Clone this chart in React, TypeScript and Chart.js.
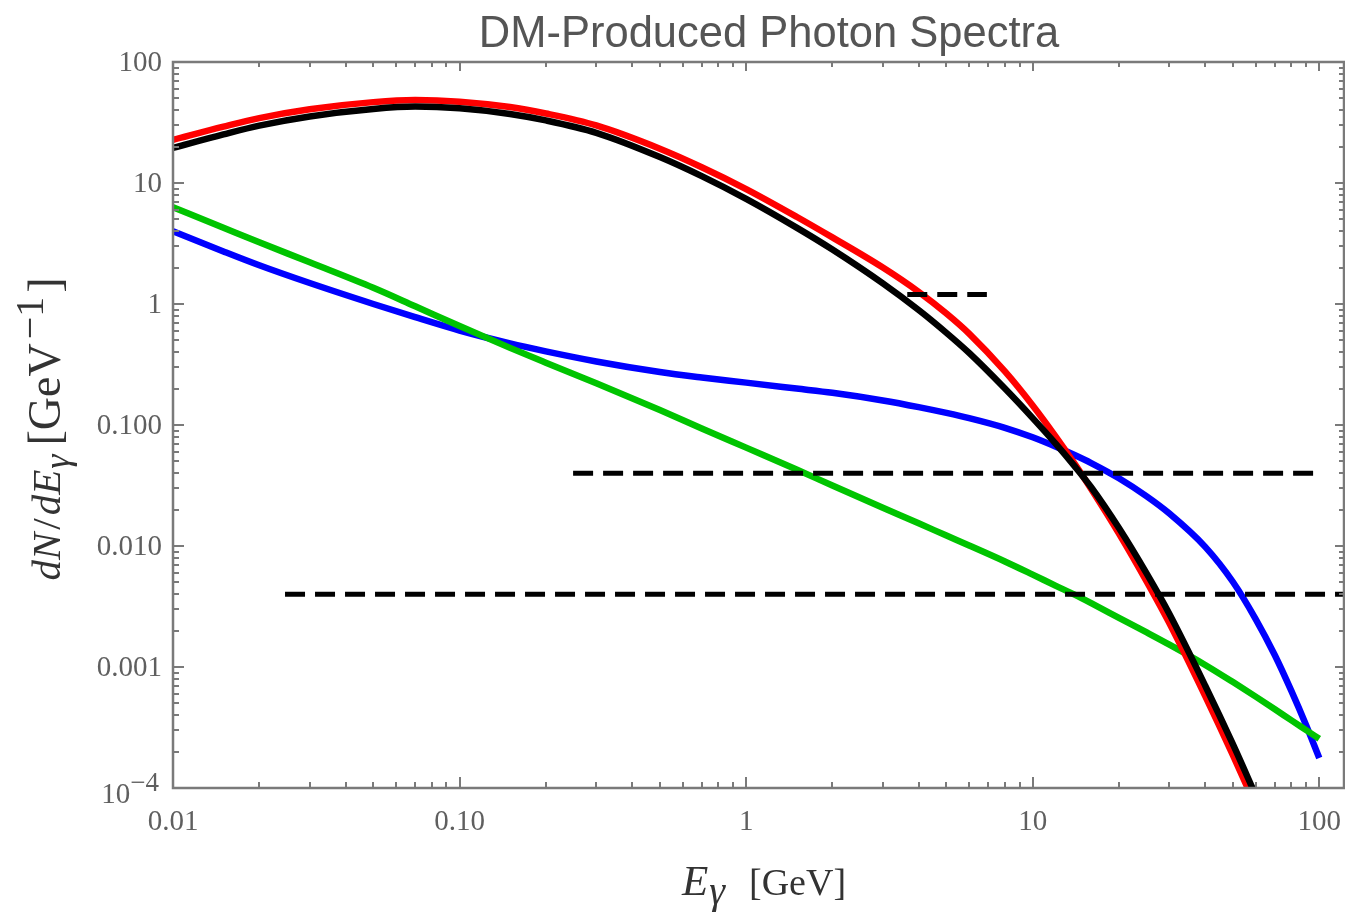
import React, { useEffect, useRef } from "react";
import { Chart, registerables } from "chart.js";

Chart.register(...registerables);

// ---- data ----
const TITLE = "DM-Produced Photon Spectra";

const X_MIN = 0.01;
const X_MAX = 122;
const Y_MIN = 1e-4;
const Y_MAX = 100;

const X_TICKS = [0.01, 0.1, 1, 10, 100];
const X_TICK_LABELS = ["0.01", "0.10", "1", "10", "100"];
const Y_TICKS = [100, 10, 1, 0.1, 0.01, 0.001, 1e-4];
const Y_TICK_LABELS = ["100", "10", "1", "0.100", "0.010", "0.001", "10^−4"];

// energies for red / black curves (they leave the frame at the bottom)
const E_CUT = [0.01, 0.015, 0.02, 0.03, 0.05, 0.07, 0.1, 0.15, 0.2, 0.3, 0.5, 0.7, 1, 1.5, 2, 3, 4, 5, 6, 8, 10, 12, 14, 16, 20, 25, 30, 40, 50, 60];
const RED = [22.7, 29.2, 34.4, 40.7, 46.6, 48.5, 47.0, 42.4, 37.5, 29.9, 19.2, 13.5, 8.91, 5.26, 3.55, 2.0, 1.26, 0.834, 0.569, 0.277, 0.145, 0.0809, 0.0479, 0.0296, 0.01268, 0.00508, 0.0023, 5.75e-4, 1.86e-4, 7.1e-5];
const BLACK = [19.5, 25.2, 29.8, 35.5, 40.9, 42.8, 41.4, 37.2, 32.9, 26.0, 16.4, 11.4, 7.4, 4.28, 2.82, 1.48, 0.891, 0.577, 0.394, 0.2, 0.114, 0.0705, 0.0457, 0.0306, 0.01406, 0.0059, 0.00274, 7.0e-4, 2.29e-4, 8.7e-5];

// energies for blue / green curves (they run to 100 GeV)
const E_FULL = [0.01, 0.015, 0.02, 0.03, 0.05, 0.07, 0.1, 0.15, 0.2, 0.3, 0.5, 0.7, 1, 1.5, 2, 3, 4, 5, 6, 8, 10, 12, 14, 16, 20, 25, 30, 40, 50, 60, 70, 80, 90, 100];
const BLUE = [4.0, 2.72, 2.09, 1.49, 1.0, 0.778, 0.604, 0.472, 0.406, 0.335, 0.274, 0.247, 0.224, 0.2, 0.1845, 0.1596, 0.1406, 0.1259, 0.114, 0.0948, 0.0791, 0.0664, 0.0565, 0.0485, 0.0363, 0.0257, 0.01854, 0.00984, 0.00504, 0.00249, 0.00125, 6.31e-4, 3.3e-4, 1.77e-4];
const GREEN = [6.3, 4.27, 3.24, 2.21, 1.36, 0.957, 0.658, 0.434, 0.327, 0.221, 0.133, 0.0937, 0.065, 0.0429, 0.0316, 0.0207, 0.0154, 0.0122, 0.0101, 0.00745, 0.0058, 0.00471, 0.00396, 0.00337, 0.00255, 0.00193, 0.00153, 0.00104, 7.5e-4, 5.69e-4, 4.48e-4, 3.62e-4, 3.01e-4, 2.55e-4];

// horizontal dashed reference lines
const DASH_LEVELS = [1.2, 0.04, 0.004];
const DASH_START = [3.65, 0.249, 0.0246];
const DASH_END = [6.92, 100, X_MAX];

const SERIF = "'Liberation Serif', 'Times New Roman', serif";
const SANS = "'Liberation Sans', Arial, sans-serif";

type Run = { t: string; f: string; dy: number; gap?: number };

function runsWidth(ctx: CanvasRenderingContext2D, runs: Run[]) {
  let w = 0;
  for (const r of runs) {
    ctx.font = r.f;
    w += ctx.measureText(r.t).width + (r.gap || 0);
  }
  return w;
}

function drawRuns(ctx: CanvasRenderingContext2D, runs: Run[], x: number, y: number) {
  let cx = x;
  for (const r of runs) {
    ctx.font = r.f;
    ctx.fillText(r.t, cx, y + r.dy);
    cx += ctx.measureText(r.t).width + (r.gap || 0);
  }
}

const decor = {
  id: "decor",
  afterDatasetsDraw(chart: any) {
    const { ctx, chartArea: a, scales } = chart;
    const xs = scales.x;
    const ys = scales.y;
    ctx.save();

    // ticks (pointing inward)
    ctx.strokeStyle = "#7a7a7a";
    ctx.lineWidth = 2;
    ctx.beginPath();
    for (let k = -2; k <= 2; k++) {
      for (let m = 1; m <= 9; m++) {
        const v = m * Math.pow(10, k);
        if (v < X_MIN * 0.999 || v > X_MAX) continue;
        const px = Math.round(xs.getPixelForValue(v));
        const major = m === 1;
        ctx.moveTo(px, a.bottom);
        ctx.lineTo(px, a.bottom - (major ? 11 : 6));
        ctx.moveTo(px, a.top);
        ctx.lineTo(px, a.top + (major ? 9 : 5));
      }
    }
    for (let k = -4; k <= 1; k++) {
      for (let m = 1; m <= 9; m++) {
        const v = m * Math.pow(10, k);
        if (v < Y_MIN * 0.999 || v > Y_MAX * 1.001) continue;
        const py = Math.round(ys.getPixelForValue(v));
        const major = m === 1;
        ctx.moveTo(a.left, py);
        ctx.lineTo(a.left + (major ? 11 : 6), py);
        ctx.moveTo(a.right, py);
        ctx.lineTo(a.right - (major ? 9 : 5), py);
      }
    }
    ctx.stroke();

    // frame
    ctx.lineWidth = 2.5;
    ctx.strokeRect(a.left, a.top, a.right - a.left, a.bottom - a.top);

    // tick labels
    ctx.fillStyle = "#5f5f5f";
    ctx.textBaseline = "alphabetic";
    const tickFont = `29px ${SERIF}`;
    ctx.font = tickFont;
    ctx.textAlign = "center";
    X_TICKS.forEach((v, i) => {
      const px = xs.getPixelForValue(v);
      ctx.fillText(X_TICK_LABELS[i], px, a.bottom + 42);
    });
    ctx.textAlign = "left";
    Y_TICKS.forEach((v, i) => {
      const py = ys.getPixelForValue(v);
      const lab = Y_TICK_LABELS[i];
      if (lab.includes("^")) {
        const [base, exp] = lab.split("^");
        const runs: Run[] = [
          { t: base, f: `29px ${SERIF}`, dy: 0 },
          { t: exp, f: `27px ${SERIF}`, dy: -12 },
        ];
        const w = runsWidth(ctx, runs);
        drawRuns(ctx, runs, 159 - w, py + 15);
      } else {
        ctx.font = tickFont;
        const w = ctx.measureText(lab).width;
        ctx.fillText(lab, 162 - w, py + 9);
      }
    });

    // title
    ctx.fillStyle = "#555555";
    ctx.font = `43.5px ${SANS}`;
    ctx.textAlign = "center";
    ctx.fillText(TITLE, 769, 47);
    ctx.textAlign = "left";

    // x axis title
    ctx.fillStyle = "#333333";
    const xRuns: Run[] = [
      { t: "E", f: `italic 43px ${SERIF}`, dy: 0, gap: 1 },
      { t: "γ", f: `italic 40px ${SERIF}`, dy: 9, gap: 24 },
      { t: "[GeV]", f: `38px ${SERIF}`, dy: 0 },
    ];
    const xw = runsWidth(ctx, xRuns);
    drawRuns(ctx, xRuns, 764 - xw / 2, 895);

    // y axis title (rotated)
    const yRuns: Run[] = [
      { t: "dN", f: `italic 41px ${SERIF}`, dy: 0, gap: 3 },
      { t: "/", f: `41px ${SERIF}`, dy: 0, gap: 3 },
      { t: "dE", f: `italic 41px ${SERIF}`, dy: 0, gap: 1 },
      { t: "γ", f: `italic 36px ${SERIF}`, dy: 9, gap: 9 },
      { t: "[GeV", f: `46px ${SERIF}`, dy: 0, gap: 4 },
      { t: "−1", f: `40px ${SERIF}`, dy: -17, gap: 4 },
      { t: "]", f: `46px ${SERIF}`, dy: 0 },
    ];
    const yw = runsWidth(ctx, yRuns);
    ctx.translate(60, 429);
    ctx.rotate(-Math.PI / 2);
    drawRuns(ctx, yRuns, -yw / 2, 0);

    ctx.restore();
  },
};

function curve(label: string, xsArr: number[], ysArr: number[], color: string) {
  return {
    label,
    data: xsArr.map((x, i) => ({ x, y: ysArr[i] })),
    borderColor: color,
    backgroundColor: color,
    borderWidth: 6.5,
    pointRadius: 0,
    fill: false,
    cubicInterpolationMode: "monotone" as const,
    borderCapStyle: "butt" as const,
    borderJoinStyle: "round" as const,
    clip: 0,
  };
}

export default function App() {
  const ref = useRef<HTMLCanvasElement | null>(null);

  useEffect(() => {
    if (!ref.current) return;
    const dashSets = DASH_LEVELS.map((lvl, i) => ({
      label: `limit ${i + 1}`,
      data: [
        { x: DASH_START[i], y: lvl },
        { x: DASH_END[i], y: lvl },
      ],
      borderColor: "#000000",
      borderWidth: 5,
      borderDash: [20, 10],
      borderCapStyle: "butt" as const,
      pointRadius: 0,
      fill: false,
      clip: 0,
    }));
    const chart = new Chart(ref.current, {
      type: "line",
      data: {
        datasets: [
          ...dashSets,
          curve("black", E_CUT, BLACK, "#000000"),
          curve("red", E_CUT, RED, "#ff0000"),
          curve("green", E_FULL, GREEN, "#00c400"),
          curve("blue", E_FULL, BLUE, "#0000ff"),
        ] as any,
      },
      options: {
        animation: false,
        responsive: false,
        devicePixelRatio: 1,
        events: [],
        layout: { padding: { left: 173, top: 62, right: 1, bottom: 124 } },
        plugins: {
          legend: { display: false },
          tooltip: { enabled: false },
          title: { display: false },
        },
        scales: {
          x: { type: "logarithmic", min: X_MIN, max: X_MAX, display: false },
          y: { type: "logarithmic", min: Y_MIN, max: Y_MAX, display: false },
        },
      },
      plugins: [decor],
    });
    return () => chart.destroy();
  }, []);

  return (
    <div style={{ position: "absolute", left: 0, top: 0, width: 1345, height: 912, background: "#fff" }}>
      <canvas ref={ref} width={1345} height={912} style={{ display: "block", width: 1345, height: 912 }} />
    </div>
  );
}
